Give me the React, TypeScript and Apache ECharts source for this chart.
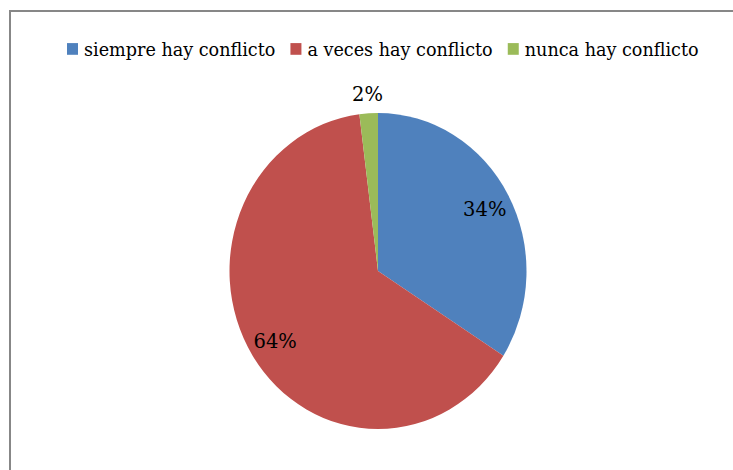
import React, { useEffect, useRef } from "react";
import * as echarts from "echarts";

const categories = ["siempre hay conflicto", "a veces hay conflicto", "nunca hay conflicto"];
const values = [34, 64, 2];
const colors = ["#4F81BD", "#C0504D", "#9BBB59"];
const insideLabelShown = [true, true, false];

const SY = 1.064;

export default function App() {
  const ref = useRef<HTMLDivElement>(null);
  useEffect(() => {
    if (!ref.current) return;
    const chart = echarts.init(ref.current, undefined, { renderer: "svg" });
    const font = "DejaVu Serif";
    const R = 148.5;
    const center = [378, 254.7];
    const mainData = categories.map((name, i) => ({
      name,
      value: values[i],
      itemStyle: { color: colors[i] },
    }));
    const insideData = categories.map((name, i) => ({
      name,
      value: values[i],
      label: { show: insideLabelShown[i] },
    }));
    const outsideData = categories.map((name, i) => ({
      name,
      value: values[i],
      label: { show: !insideLabelShown[i] },
    }));
    const labelCommon = {
      position: "inside",
      formatter: "{c}%",
      color: "#000",
      fontSize: 19.5,
      fontFamily: font,
    };
    chart.setOption({
      animation: false,
      backgroundColor: "#fff",
      textStyle: { fontFamily: font },
      legend: {
        left: 62,
        top: 30,
        itemWidth: 11,
        itemHeight: 11,
        itemGap: 15,
        icon: "rect",
        selectedMode: false,
        data: categories.map((name, i) => ({ name, itemStyle: { color: colors[i] } })),
        textStyle: { fontFamily: font, fontSize: 17.6, color: "#000", lineHeight: 22, padding: [0, 0, 0, 1] },
      },
      graphic: [
        {
          type: "rect",
          shape: { x: 10, y: 10.3, width: 800, height: 500 },
          style: { fill: "none", stroke: "#878787", lineWidth: 2 },
          silent: true,
        },
      ],
      series: [
        {
          type: "pie",
          radius: R,
          center,
          startAngle: 90,
          clockwise: true,
          label: { show: false },
          labelLine: { show: false },
          emphasis: { disabled: true },
          silent: true,
          data: mainData,
        },
        {
          type: "pie",
          radius: [R * 0.6, R],
          center,
          startAngle: 90,
          clockwise: true,
          itemStyle: { color: "transparent" },
          label: labelCommon,
          labelLine: { show: false },
          emphasis: { disabled: true },
          silent: true,
          data: insideData,
        },
        {
          type: "pie",
          radius: [R, R + 31],
          center,
          startAngle: 90,
          clockwise: true,
          itemStyle: { color: "transparent" },
          label: labelCommon,
          labelLine: { show: false },
          emphasis: { disabled: true },
          silent: true,
          data: outsideData,
        },
      ],
    });
    return () => chart.dispose();
  }, []);
  return (
    <div
      style={{
        position: "fixed",
        left: 0,
        top: 0,
        width: 733,
        height: 470,
        overflow: "hidden",
        background: "#fff",
      }}
    >
      <div
        ref={ref}
        style={{
          width: 733,
          height: Math.round(470 / SY),
          transform: `scaleY(${SY})`,
          transformOrigin: "top left",
        }}
      />
    </div>
  );
}
